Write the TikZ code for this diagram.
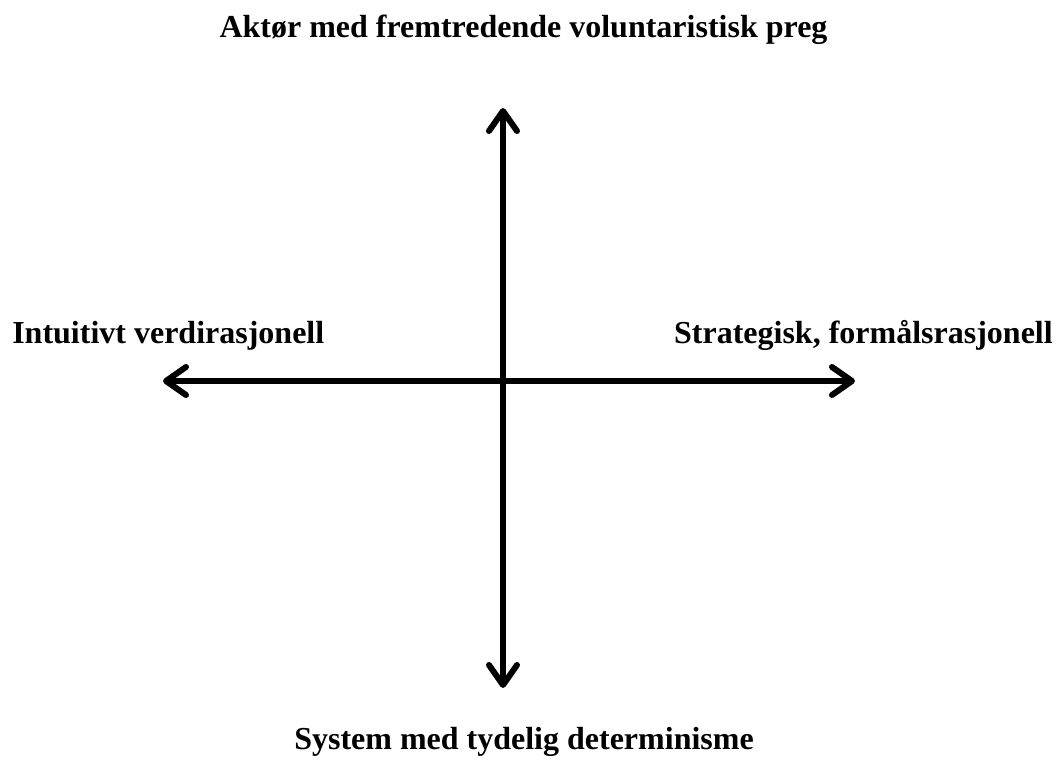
\documentclass[tikz,border=0pt]{standalone}
\usepackage{fontspec}
\setmainfont{Liberation Serif}
\usetikzlibrary{arrows.meta}
\tikzset{
    axis-line/.style = {line width=4.5pt, {Straight Barb[round, length=15pt, width=21pt]}-{Straight Barb[round, length=15pt, width=21pt]}},
    axis-label/.style = {font=\fontsize{24}{28}\selectfont\bfseries, inner sep=0pt},
}
\begin{document}
\begin{tikzpicture}[x=0.75pt, y=-0.75pt]
\useasboundingbox (0,0) rectangle (1058,763);
\coordinate (top) at (503,108);
\coordinate (bottom) at (503,688);
\coordinate (left) at (163,381);
\coordinate (right) at (855,381);
\draw[axis-line] (bottom) -- (top);
\draw[axis-line] (left) -- (right);
\node[axis-label, anchor=base] (actor) at (523.5,38) {Aktør med fremtredende voluntaristisk preg};
\node[axis-label, anchor=base] (system) at (524,749) {System med tydelig determinisme};
\node[axis-label, anchor=base west] (intuitive) at (12,344) {Intuitivt verdirasjonell};
\node[axis-label, anchor=base east] (strategic) at (1053,344) {Strategisk, formålsrasjonell};
\end{tikzpicture}
\end{document}
